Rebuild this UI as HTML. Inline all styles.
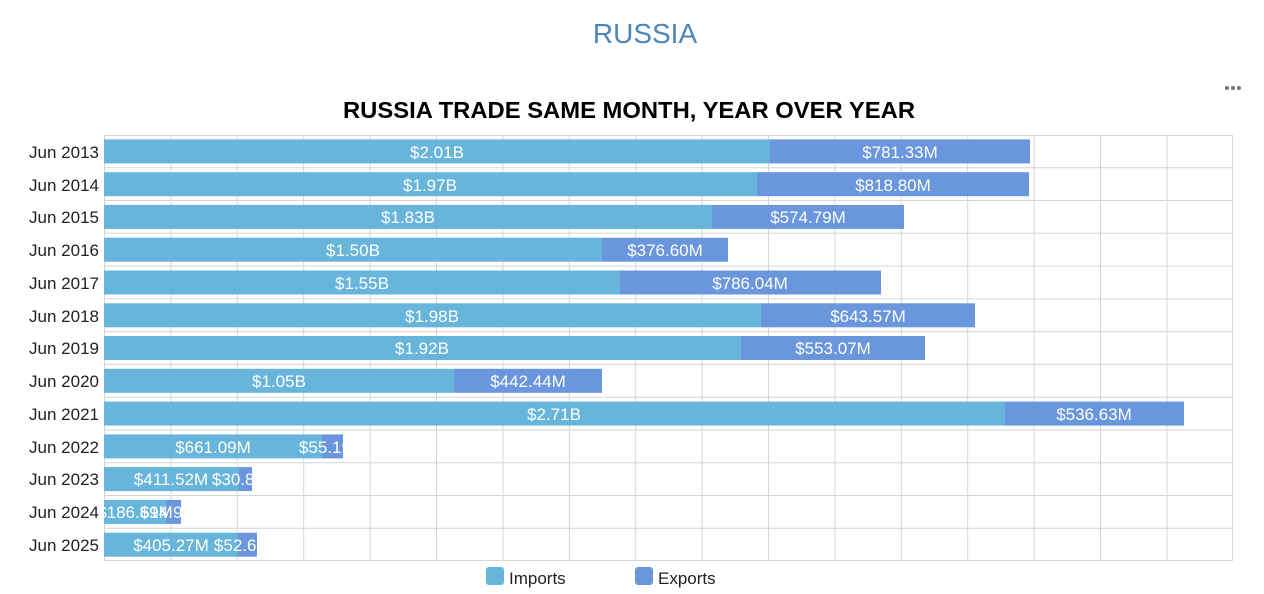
<!DOCTYPE html>
<html><head><meta charset="utf-8"><style>
body{margin:0;background:#fff;width:1264px;height:589px;overflow:hidden;font-family:"Liberation Sans",sans-serif}
</style></head><body>
<svg width="1264" height="589" xmlns="http://www.w3.org/2000/svg" font-family="Liberation Sans, sans-serif">
<defs>
<clipPath id="plot"><rect x="104" y="135" width="1129" height="426"/></clipPath>
<clipPath id="c9"><rect x="104" y="430" width="239" height="33"/></clipPath>
<clipPath id="c10"><rect x="104" y="462" width="148" height="33"/></clipPath>
<clipPath id="c11"><rect x="104" y="495" width="77" height="33"/></clipPath>
<clipPath id="c12"><rect x="104" y="528" width="153" height="33"/></clipPath>
</defs>
<text x="645" y="43" text-anchor="middle" font-size="28" fill="#4a86b8">RUSSIA</text>
<text x="343" y="118" textLength="572" lengthAdjust="spacingAndGlyphs" font-size="23" font-weight="bold" fill="#000">RUSSIA TRADE SAME MONTH, YEAR OVER YEAR</text>
<g fill="#777"><circle cx="1227" cy="88" r="2"/><circle cx="1233" cy="88" r="2"/><circle cx="1239" cy="88" r="2"/></g>
<g stroke="#d6d6d6" stroke-width="1">
<path d="M104.5 135V561M170.9 135V561M237.3 135V561M303.7 135V561M370.1 135V561M436.5 135V561M502.9 135V561M569.3 135V561M635.7 135V561M702.1 135V561M768.5 135V561M834.9 135V561M901.3 135V561M967.7 135V561M1034.1 135V561M1100.5 135V561M1166.9 135V561M1232.5 135V561"/>
<path d="M104 135.5H1233M104 167.8H1233M104 200.5H1233M104 233.3H1233M104 266.1H1233M104 298.9H1233M104 331.6H1233M104 364.4H1233M104 397.2H1233M104 430H1233M104 462.7H1233M104 495.5H1233M104 528.3H1233M104 560.5H1233"/>
</g>
<g font-size="17" fill="#222" text-anchor="end">
<text x="99" y="158">Jun 2013</text><text x="99" y="191">Jun 2014</text><text x="99" y="223">Jun 2015</text><text x="99" y="256">Jun 2016</text><text x="99" y="289">Jun 2017</text><text x="99" y="322">Jun 2018</text><text x="99" y="354">Jun 2019</text><text x="99" y="387">Jun 2020</text><text x="99" y="420">Jun 2021</text><text x="99" y="453">Jun 2022</text><text x="99" y="485">Jun 2023</text><text x="99" y="518">Jun 2024</text><text x="99" y="551">Jun 2025</text>
</g>
<g fill="#67b5db">
<rect x="104" y="139.4" width="666" height="24"/><rect x="104" y="172.2" width="653" height="24"/><rect x="104" y="204.9" width="608" height="24"/><rect x="104" y="237.7" width="498" height="24"/><rect x="104" y="270.5" width="516" height="24"/><rect x="104" y="303.3" width="657" height="24"/><rect x="104" y="336" width="637" height="24"/><rect x="104" y="368.8" width="350" height="24"/><rect x="104" y="401.6" width="901" height="24"/><rect x="104" y="434.4" width="218" height="24"/><rect x="104" y="467.1" width="135" height="24"/><rect x="104" y="499.9" width="62" height="24"/><rect x="104" y="532.7" width="134" height="24"/>
</g>
<g fill="#6a96de">
<rect x="770" y="139.4" width="260" height="24"/><rect x="757" y="172.2" width="272" height="24"/><rect x="712" y="204.9" width="192" height="24"/><rect x="602" y="237.7" width="126" height="24"/><rect x="620" y="270.5" width="261" height="24"/><rect x="761" y="303.3" width="214" height="24"/><rect x="741" y="336" width="184" height="24"/><rect x="454" y="368.8" width="148" height="24"/><rect x="1005" y="401.6" width="179" height="24"/><rect x="322" y="434.4" width="21" height="24"/><rect x="239" y="467.1" width="13" height="24"/><rect x="166" y="499.9" width="15" height="24"/><rect x="238" y="532.7" width="19" height="24"/>
</g>
<g font-size="17" fill="#fff" text-anchor="middle">
<text x="437" y="158">$2.01B</text><text x="900" y="158">$781.33M</text>
<text x="430" y="191">$1.97B</text><text x="893" y="191">$818.80M</text>
<text x="408" y="223">$1.83B</text><text x="808" y="223">$574.79M</text>
<text x="353" y="256">$1.50B</text><text x="665" y="256">$376.60M</text>
<text x="362" y="289">$1.55B</text><text x="750" y="289">$786.04M</text>
<text x="432" y="322">$1.98B</text><text x="868" y="322">$643.57M</text>
<text x="422" y="354">$1.92B</text><text x="833" y="354">$553.07M</text>
<text x="279" y="387">$1.05B</text><text x="528" y="387">$442.44M</text>
<text x="554" y="420">$2.71B</text><text x="1094" y="420">$536.63M</text>
<text x="213" y="453">$661.09M</text><text x="332" y="453" clip-path="url(#c9)">$55.19M</text>
<text x="171" y="485">$411.52M</text><text x="245" y="485" clip-path="url(#c10)">$30.83M</text>
<g clip-path="url(#plot)"><text x="135" y="518">$186.69M</text></g><text x="173" y="518" clip-path="url(#c11)">$14.93M</text>
<text x="171" y="551">$405.27M</text><text x="247" y="551" clip-path="url(#c12)">$52.64M</text>
</g>
<rect x="486" y="567" width="18" height="18" rx="3" fill="#67b5db"/>
<text x="509" y="584" font-size="17" fill="#222">Imports</text>
<rect x="635" y="567" width="18" height="18" rx="3" fill="#6a96de"/>
<text x="658" y="584" font-size="17" fill="#222">Exports</text>
</svg>
</body></html>
